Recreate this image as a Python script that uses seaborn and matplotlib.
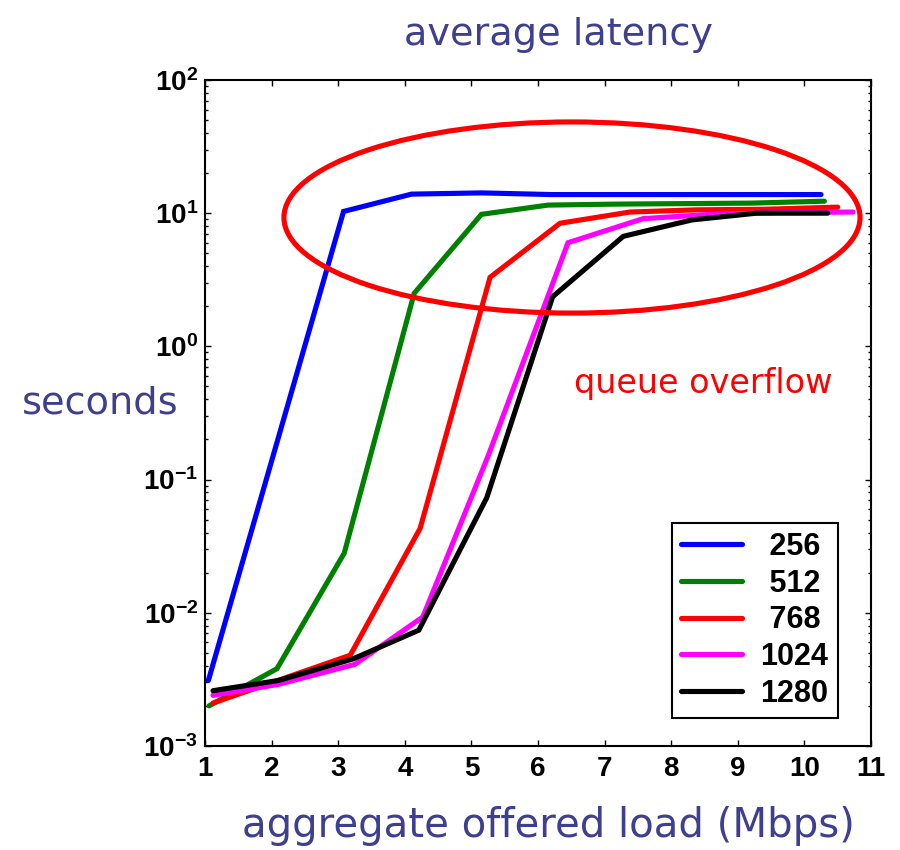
import matplotlib
matplotlib.use("Agg")
import matplotlib.pyplot as plt
import numpy as np
import pandas as pd
import seaborn as sns
from matplotlib.lines import Line2D
from matplotlib.patches import Ellipse
from matplotlib.ticker import FixedLocator, LogLocator, NullFormatter

# Buffer sizes and measured average latency (seconds) vs. offered load (Mbps)
sizes = ["256", "512", "768", "1024", "1280"]
colors = ["#0000ff", "#008000", "#ff0000", "#ff00ff", "#000000"]

load_256 = [1.05, 3.08, 4.10, 5.15, 6.20, 7.20, 8.20, 9.20, 10.25]
lat_256 = [0.0031, 10.3, 13.9, 14.2, 13.8, 13.8, 13.8, 13.8, 13.8]

load_512 = [1.06, 2.08, 3.09, 4.14, 5.15, 6.15, 7.20, 8.20, 9.20, 10.30]
lat_512 = [0.0020, 0.0038, 0.028, 2.5, 9.8, 11.5, 11.7, 11.8, 11.9, 12.3]

load_768 = [1.12, 3.18, 4.23, 5.28, 6.33, 7.38, 8.40, 9.40, 10.50]
lat_768 = [0.0021, 0.0048, 0.043, 3.3, 8.4, 10.2, 10.6, 10.7, 11.1]

load_1024 = [1.12, 2.10, 3.25, 4.27, 5.25, 6.45, 7.58, 8.60, 9.60, 10.73]
lat_1024 = [0.0024, 0.0029, 0.0041, 0.0093, 0.15, 6.0, 9.1, 9.8, 10.1, 10.2]

load_1280 = [1.12, 2.10, 3.22, 4.21, 5.23, 6.22, 7.28, 8.31, 9.28, 10.35]
lat_1280 = [0.0026, 0.0031, 0.0045, 0.0074, 0.073, 2.36, 6.7, 8.9, 10.0, 10.0]

x_ticks = [1, 2, 3, 4, 5, 6, 7, 8, 9, 10, 11]
y_ticks = [1e-3, 1e-2, 1e-1, 1e0, 1e1, 1e2]
y_tick_labels = [r"$\mathbf{10^{-3}}$", r"$\mathbf{10^{-2}}$", r"$\mathbf{10^{-1}}$",
                 r"$\mathbf{10^{0}}$", r"$\mathbf{10^{1}}$", r"$\mathbf{10^{2}}$"]

series = {
    "256": (load_256, lat_256),
    "512": (load_512, lat_512),
    "768": (load_768, lat_768),
    "1024": (load_1024, lat_1024),
    "1280": (load_1280, lat_1280),
}
df = pd.concat(
    [pd.DataFrame({"load": x, "latency": y, "size": s}) for s, (x, y) in series.items()],
    ignore_index=True,
)

sns.set_style("ticks")
plt.rcParams["font.family"] = ["Liberation Sans", "DejaVu Sans"]
plt.rcParams["mathtext.fontset"] = "custom"
plt.rcParams["mathtext.rm"] = "Liberation Sans"
plt.rcParams["mathtext.bf"] = "Liberation Sans:bold"
plt.rcParams["text.color"] = "black"
plt.rcParams["xtick.color"] = "black"
plt.rcParams["ytick.color"] = "black"
plt.rcParams["axes.labelcolor"] = "black"

text_color = "#3f3f8f"
lw = 3.7

fig = plt.figure(figsize=(9, 8.5), dpi=100)
ax = fig.add_axes([0.2278, 0.1224, 0.74, 0.7835])

sns.lineplot(
    data=df, x="load", y="latency", hue="size", hue_order=sizes,
    palette=dict(zip(sizes, colors)), estimator=None, sort=False,
    linewidth=lw, legend=False, ax=ax,
)
for line in ax.get_lines():
    line.set_solid_capstyle("round")
    line.set_solid_joinstyle("miter")

ax.set_yscale("log")
ax.set_xlim(1, 11)
ax.set_ylim(1e-3, 1e2)
ax.set_xlabel("")
ax.set_ylabel("")

ax.xaxis.set_major_locator(FixedLocator(x_ticks))
ax.set_xticklabels([str(t) for t in x_ticks], fontsize=20, fontweight="bold", color="black")
ax.set_yticks(y_ticks)
ax.set_yticklabels(y_tick_labels, fontsize=20, color="black")
ax.yaxis.set_minor_locator(LogLocator(base=10, subs=np.arange(2, 10)))
ax.yaxis.set_minor_formatter(NullFormatter())

ax.tick_params(which="both", direction="in", top=True, right=True, color="black")
ax.tick_params(which="major", length=4, width=1.0)
ax.tick_params(which="minor", length=2.5, width=1.0)
ax.tick_params(axis="x", pad=7)
ax.tick_params(axis="y", pad=5)
for sp in ax.spines.values():
    sp.set_linewidth(1.5)
    sp.set_color("black")

# Overflow region marker
ax.add_patch(Ellipse((0.551, 0.7935), 0.865, 0.287, transform=ax.transAxes,
                     fill=False, edgecolor="#ff0000", linewidth=lw, zorder=5))
ax.text(0.748, 0.53, "queue overflow", transform=ax.transAxes, ha="center",
        va="baseline", color="#ff0000", fontsize=24, family="DejaVu Sans")

handles = [Line2D([0], [0], color=c, linewidth=lw, solid_capstyle="round") for c in colors]
labels = [s.rjust(4) for s in sizes]
leg = ax.legend(handles, labels, loc="lower right", bbox_to_anchor=(0.95, 0.042),
                borderaxespad=0, frameon=True, fancybox=False, framealpha=1,
                edgecolor="black", prop={"weight": "bold", "size": 22},
                handlelength=2.0, handletextpad=0.6, labelspacing=0.22, borderpad=0.3)
leg.get_frame().set_linewidth(1.5)
for t in leg.get_texts():
    t.set_color("black")

fig.text(558 / 900, 1 - 45 / 850, "average latency", ha="center", va="baseline",
         color=text_color, fontsize=27.5, family="DejaVu Sans")
fig.text(100 / 900, 1 - 414 / 850, "seconds", ha="center", va="baseline",
         color=text_color, fontsize=27.5, family="DejaVu Sans")
fig.text(548 / 900, 1 - 837 / 850, "aggregate offered load (Mbps)", ha="center",
         va="baseline", color=text_color, fontsize=29, family="DejaVu Sans")

fig.savefig("out.png", dpi=100)
